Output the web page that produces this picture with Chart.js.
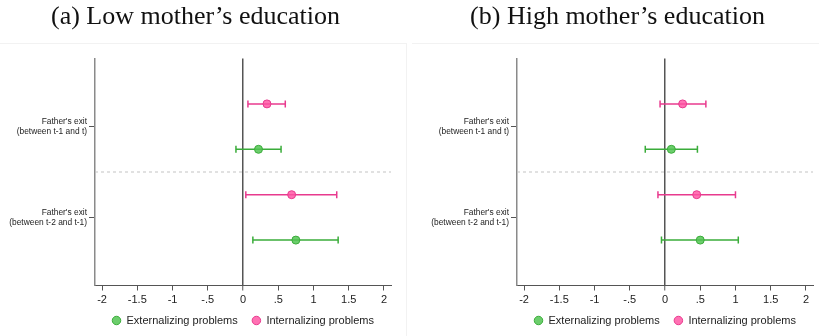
<!DOCTYPE html>
<html>
<head>
<meta charset="utf-8">
<script src="https://cdn.jsdelivr.net/npm/chart.js@4/dist/chart.umd.min.js"></script>
<style>
  html, body { margin: 0; padding: 0; background: #fff; }
  #wrap { position: relative; width: 819px; height: 336px; overflow: hidden; }
  canvas { position: absolute; top: 0; }
  .frame { position: absolute; top: 43px; height: 300px; border-top: 1px solid #f2f2f2; }
</style>
</head>
<body>
<div id="wrap">
  <div class="frame" style="left:0;width:406px;border-right:1px solid #f2f2f2;"></div>
  <div class="frame" style="left:412px;width:407px;"></div>
  <canvas id="low" width="410" height="336" style="left:0"></canvas>
  <canvas id="high" width="397" height="336" style="left:422px"></canvas>
</div>
<script>
// Row labels (one per event) and x-axis tick values
const categories = [
  ["Father's exit", "(between t-1 and t)"],
  ["Father's exit", "(between t-2 and t-1)"]
];
const xTicks = [-2, -1.5, -1, -0.5, 0, 0.5, 1, 1.5, 2];
const seriesNames = ["Externalizing problems", "Internalizing problems"];

// Panel (a): low mother's education — estimates and 95% CI bounds
const lowExt   = [0.22, 0.75];
const lowExtLo = [-0.10, 0.14];
const lowExtHi = [0.54, 1.35];
const lowInt   = [0.34, 0.69];
const lowIntLo = [0.07, 0.04];
const lowIntHi = [0.60, 1.33];

// Panel (b): high mother's education
const highExt   = [0.09, 0.50];
const highExtLo = [-0.28, -0.05];
const highExtHi = [0.46, 1.04];
const highInt   = [0.25, 0.45];
const highIntLo = [-0.07, -0.10];
const highIntHi = [0.58, 1.00];

const GREEN_LINE = 'rgb(58,172,58)';
const GREEN_FILL = 'rgba(82,196,82,0.85)';
const PINK_LINE  = 'rgb(232,58,142)';
const PINK_FILL  = 'rgba(255,82,162,0.82)';

// Vertical slots: internalizing above externalizing within each event
const intPos = categories.map((_, i) => 1 + 2 * i);
const extPos = categories.map((_, i) => 2 + 2 * i);
const tickPos = categories.map((_, i) => 1.5 + 2 * i);

function fmtTick(v) {
  if (v === 0) return '0';
  return String(v).replace(/^(-?)0\./, '$1.');
}

function buildPanel(id, title, ext, extLo, extHi, intv, intLo, intHi, padRight) {
  const datasets = [];
  datasets.push({
    type: 'scatter', label: seriesNames[0],
    data: ext.map((v, i) => ({ x: v, y: extPos[i] })),
    pointRadius: 4, pointBackgroundColor: GREEN_FILL, pointBorderColor: GREEN_LINE,
    pointBorderWidth: 1, backgroundColor: GREEN_FILL, borderColor: GREEN_LINE
  });
  datasets.push({
    type: 'scatter', label: seriesNames[1],
    data: intv.map((v, i) => ({ x: v, y: intPos[i] })),
    pointRadius: 4, pointBackgroundColor: PINK_FILL, pointBorderColor: PINK_LINE,
    pointBorderWidth: 1, backgroundColor: PINK_FILL, borderColor: PINK_LINE
  });
  const addBar = (lo, hi, y, color) => datasets.push({
    type: 'line', label: 'ci',
    data: [{ x: lo, y }, { x: hi, y }],
    borderColor: color, borderWidth: 1.5,
    pointStyle: 'line', pointRotation: 90, pointRadius: 3.5,
    pointBorderColor: color, pointBorderWidth: 1.5, fill: false
  });
  ext.forEach((_, i) => addBar(extLo[i], extHi[i], extPos[i], GREEN_LINE));
  intv.forEach((_, i) => addBar(intLo[i], intHi[i], intPos[i], PINK_LINE));
  // separator between the two events
  for (let k = 1; k < categories.length; k++) {
    datasets.push({
      type: 'line', label: 'sep',
      data: [{ x: -2.1, y: 2 * k + 0.5 }, { x: 2.1, y: 2 * k + 0.5 }],
      borderColor: '#c4c4c4', borderWidth: 1, borderDash: [3, 3],
      pointRadius: 0, fill: false
    });
  }

  return new Chart(document.getElementById(id), {
    type: 'scatter',
    data: { datasets },
    options: {
      responsive: false, animation: false, events: [],
      layout: { padding: { left: 0, right: padRight, top: 0, bottom: 0 } },
      plugins: {
        tooltip: { enabled: false },
        title: {
          display: true, text: title, color: '#111',
          font: { family: '"Liberation Serif", "DejaVu Serif", serif', size: 26, weight: 'normal', lineHeight: 1.2 },
          padding: { top: 2, bottom: 25.3 }
        },
        legend: {
          position: 'bottom', fullSize: false,
          labels: {
            usePointStyle: true, pointStyle: 'circle', boxWidth: 9, boxHeight: 6,
            color: '#222', padding: 8,
            font: { family: '"Liberation Sans", Arial, sans-serif', size: 11 },
            generateLabels: chart => {
              const items = Chart.defaults.plugins.legend.labels.generateLabels(chart)
                .filter(it => it.datasetIndex < seriesNames.length);
              // a little extra room between the two entries
              return items.map((it, i) => (i < items.length - 1 ? { ...it, text: it.text + '  ' } : it));
            }
          }
        }
      },
      scales: {
        x: {
          type: 'linear', min: -2.1, max: 2.1,
          afterBuildTicks: s => { s.ticks = xTicks.map(v => ({ value: v })); },
          afterFit: s => { s.height = 21.5; },
          ticks: {
            callback: v => fmtTick(v), color: '#222', padding: 3, maxRotation: 0,
            font: { family: '"Liberation Sans", Arial, sans-serif', size: 11 }
          },
          grid: {
            drawOnChartArea: true, drawTicks: true, tickLength: 5,
            color: ctx => (ctx.tick && ctx.tick.value === 0) ? '#555' : 'rgba(0,0,0,0)',
            lineWidth: ctx => (ctx.tick && ctx.tick.value === 0) ? 1.5 : 1,
            tickColor: '#555', tickWidth: 1
          },
          border: { display: true, color: '#555', width: 1 }
        },
        y: {
          type: 'linear', min: 0, max: 2 * categories.length + 1, reverse: true,
          afterBuildTicks: s => { s.ticks = tickPos.map(v => ({ value: v })); },
          afterFit: s => { s.width = 95; },
          ticks: {
            callback: (v, i) => categories[i], color: '#222', padding: 2,
            font: { family: '"Liberation Sans", Arial, sans-serif', size: 8.4, lineHeight: 1.2 }
          },
          grid: { drawOnChartArea: false, drawTicks: true, tickLength: 6, tickColor: '#555' },
          border: { display: true, color: '#8a8a8a', width: 1.5 }
        }
      }
    }
  });
}

buildPanel('low', '(a) Low mother\u2019s education',
  lowExt, lowExtLo, lowExtHi, lowInt, lowIntLo, lowIntHi, 19);
buildPanel('high', '(b) High mother\u2019s education',
  highExt, highExtLo, highExtHi, highInt, highIntLo, highIntHi, 6);
</script>
</body>
</html>
